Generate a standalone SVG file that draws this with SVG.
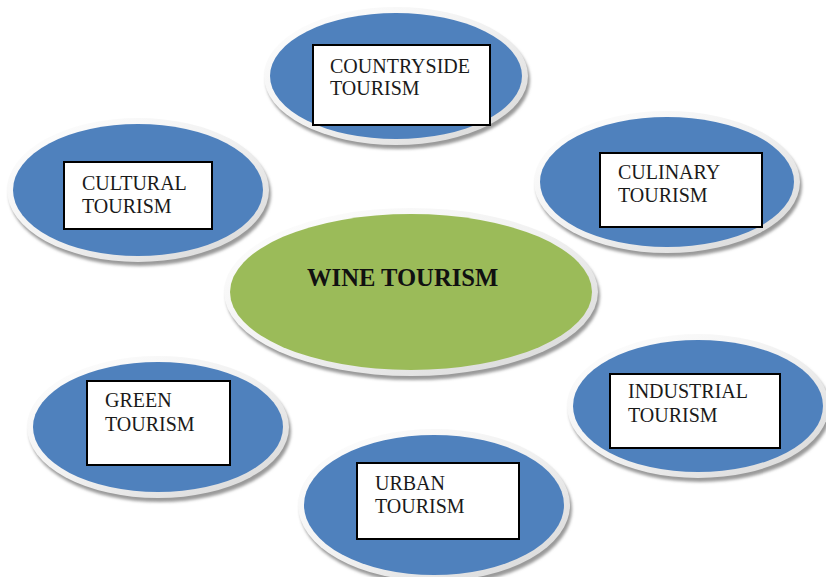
<svg xmlns="http://www.w3.org/2000/svg" width="826" height="577" viewBox="0 0 826 577">
  <style>
    .shadow { fill: #9a9a9a; filter: url(#soft); }
    .ring { fill: url(#ringGrad); }
    .blue { fill: #4f81bd; }
    .green { fill: #9bbb59; }
    .box { fill: #ffffff; stroke: #000000; stroke-width: 2; }
    .lbl { font-family: "Liberation Serif", "Times New Roman", serif; font-size: 20px; fill: #1a1a1a; }
    .hub { font-family: "Liberation Serif", "Times New Roman", serif; font-size: 24.6px; font-weight: bold; fill: #111111; }
  </style>
  <defs>
    <filter id="soft" x="-10%" y="-10%" width="120%" height="120%">
      <feGaussianBlur stdDeviation="1.6"/>
    </filter>
    <linearGradient id="ringGrad" x1="0" y1="0" x2="1" y2="1">
      <stop offset="0" stop-color="#ffffff"/>
      <stop offset="0.5" stop-color="#f1f1f1"/>
      <stop offset="1" stop-color="#d6d6d6"/>
    </linearGradient>
  </defs>

  <rect width="826" height="577" fill="#ffffff"/>

  <g id="connectors"/>

  <!-- central hub -->
  <g id="wine-tourism">
    <ellipse class="shadow" cx="413" cy="296" rx="187" ry="84"/>
    <ellipse class="ring" cx="411" cy="292" rx="187" ry="84"/>
    <ellipse class="green" cx="411" cy="292" rx="181" ry="78"/>
    <text class="hub" x="307" y="286">WINE TOURISM</text>
  </g>

  <g id="countryside-tourism">
    <ellipse class="shadow" cx="398" cy="80" rx="132" ry="69"/>
    <ellipse class="ring" cx="396" cy="76" rx="132" ry="69"/>
    <ellipse class="blue" cx="396" cy="76" rx="126" ry="63"/>
    <rect class="box" x="313" y="45" width="177" height="80"/>
    <text class="lbl" x="330" y="73">COUNTRYSIDE</text>
    <text class="lbl" x="330" y="95">TOURISM</text>
  </g>

  <g id="cultural-tourism">
    <ellipse class="shadow" cx="140" cy="194" rx="131" ry="72"/>
    <ellipse class="ring" cx="138" cy="190" rx="131" ry="72"/>
    <ellipse class="blue" cx="138" cy="190" rx="125" ry="66"/>
    <rect class="box" x="64" y="162" width="148" height="67"/>
    <text class="lbl" x="82" y="190">CULTURAL</text>
    <text class="lbl" x="82" y="213">TOURISM</text>
  </g>

  <g id="culinary-tourism">
    <ellipse class="shadow" cx="669" cy="186" rx="133" ry="71"/>
    <ellipse class="ring" cx="667" cy="182" rx="133" ry="71"/>
    <ellipse class="blue" cx="667" cy="182" rx="127" ry="65"/>
    <rect class="box" x="600" y="153" width="162" height="74"/>
    <text class="lbl" x="618" y="179">CULINARY</text>
    <text class="lbl" x="618" y="202">TOURISM</text>
  </g>

  <g id="green-tourism">
    <ellipse class="shadow" cx="160" cy="431" rx="131" ry="71"/>
    <ellipse class="ring" cx="158" cy="427" rx="131" ry="71"/>
    <ellipse class="blue" cx="158" cy="427" rx="125" ry="65"/>
    <rect class="box" x="87" y="381" width="143" height="84"/>
    <text class="lbl" x="105" y="407">GREEN</text>
    <text class="lbl" x="105" y="431">TOURISM</text>
  </g>

  <g id="industrial-tourism">
    <ellipse class="shadow" cx="700" cy="410" rx="131" ry="72"/>
    <ellipse class="ring" cx="698" cy="406" rx="131" ry="72"/>
    <ellipse class="blue" cx="698" cy="406" rx="125" ry="66"/>
    <rect class="box" x="610" y="374" width="170" height="74"/>
    <text class="lbl" x="628" y="398">INDUSTRIAL</text>
    <text class="lbl" x="628" y="422">TOURISM</text>
  </g>

  <g id="urban-tourism">
    <ellipse class="shadow" cx="436" cy="509" rx="136" ry="76"/>
    <ellipse class="ring" cx="434" cy="505" rx="136" ry="76"/>
    <ellipse class="blue" cx="434" cy="505" rx="130" ry="70"/>
    <rect class="box" x="357" y="463" width="162" height="76"/>
    <text class="lbl" x="375" y="490">URBAN</text>
    <text class="lbl" x="375" y="513">TOURISM</text>
  </g>
</svg>
